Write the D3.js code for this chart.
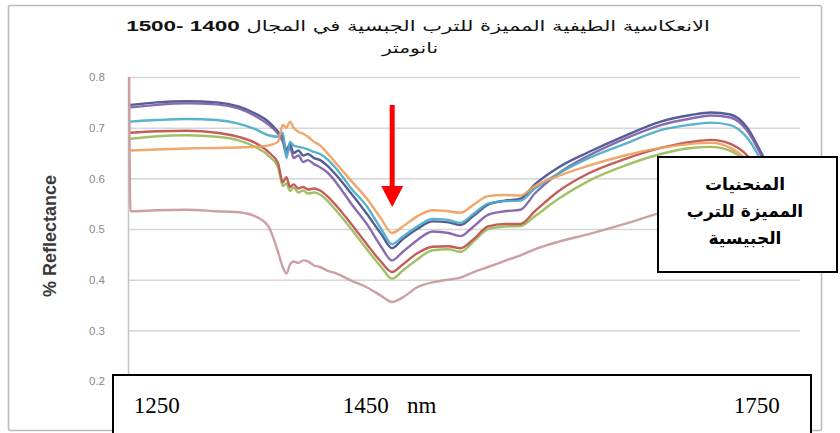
<!DOCTYPE html>
<html><head><meta charset="utf-8">
<script src="https://cdn.jsdelivr.net/npm/d3@7"></script>
<style>html,body{margin:0;padding:0;background:#fff;} svg{display:block;}</style>
</head><body>
<svg id="chart" width="840" height="433"></svg>
<script>
// ---------------- DATA ----------------
const wavelengths = [1228,1250,1275,1300,1318,1332,1343,1351,1355,1358,1361,1364,1368,1372,1376,1381,1386,1392,1400,1412,1425,1437,1446,1455,1467,1480,1493,1503,1514,1526,1540,1553,1565,1585,1610,1640,1670,1695,1712,1728,1742,1755,1768];

const navyValues = [0.745,0.750,0.752,0.750,0.742,0.728,0.712,
  0.692,0.680,0.656,0.668,0.650,0.655,0.645,0.648,0.640,0.636,0.625,0.605,0.570,0.530,0.490,0.462,
  0.480,0.500,0.515,0.513,0.508,0.526,0.548,0.556,0.560,0.588,0.622,0.652,0.684,0.712,0.725,0.730,0.726,0.700,0.645,0.590];
const purpleValues = [0.740,0.745,0.748,0.746,0.738,0.723,0.706,
  0.688,0.672,0.648,0.662,0.640,0.645,0.632,0.636,0.628,0.622,0.612,0.590,0.550,0.510,0.465,0.438,
  0.455,0.478,0.495,0.492,0.486,0.505,0.528,0.535,0.538,0.570,0.610,0.645,0.678,0.705,0.718,0.724,0.720,0.694,0.640,0.585];
const tealValues = [0.712,0.715,0.717,0.715,0.708,0.697,0.685,
  0.682,0.690,0.640,0.672,0.665,0.662,0.660,0.657,0.652,0.648,0.638,0.618,0.580,0.545,0.500,0.470,
  0.485,0.505,0.520,0.518,0.512,0.530,0.550,0.555,0.556,0.580,0.610,0.640,0.668,0.695,0.706,0.710,0.705,0.680,0.630,0.575];
const redValues = [0.690,0.693,0.694,0.690,0.682,0.670,0.652,
  0.630,0.592,0.602,0.583,0.588,0.580,0.583,0.578,0.580,0.576,0.565,0.545,0.510,0.470,0.435,0.415,
  0.430,0.452,0.465,0.466,0.462,0.480,0.505,0.510,0.510,0.535,0.575,0.610,0.638,0.660,0.672,0.676,0.668,0.645,0.600,0.550];
const greenValues = [0.678,0.683,0.685,0.682,0.675,0.662,0.645,
  0.622,0.585,0.590,0.575,0.582,0.572,0.576,0.570,0.572,0.568,0.556,0.535,0.500,0.460,0.425,0.402,
  0.418,0.440,0.458,0.460,0.455,0.475,0.500,0.505,0.506,0.525,0.560,0.595,0.625,0.648,0.660,0.662,0.654,0.630,0.590,0.540];
const orangeValues = [0.655,0.657,0.659,0.660,0.661,0.662,0.665,
  0.672,0.706,0.700,0.712,0.700,0.692,0.688,0.682,0.672,0.665,0.650,0.628,0.595,0.560,0.520,0.492,
  0.505,0.525,0.537,0.535,0.532,0.548,0.565,0.567,0.566,0.585,0.605,0.625,0.645,0.660,0.668,0.670,0.660,0.635,0.595,0.545];
const pinkValues = [0.535,0.537,0.538,0.535,0.533,0.525,0.505,
  0.455,0.425,0.412,0.430,0.436,0.433,0.438,0.436,0.428,0.425,0.418,0.412,0.398,0.385,0.368,0.356,
  0.365,0.385,0.395,0.400,0.404,0.415,0.425,0.437,0.448,0.460,0.475,0.490,0.510,0.532,0.545,0.550,0.548,0.540,0.530,0.510];
// the pink spectrum opens with a spike at the first wavelength
const pinkLeadWavelength = 1227;
const pinkLeadValue = 0.80;

const seriesColors = {
  pink: "#c9999b", green: "#9bbb59", red: "#c0504d", navy: "#45508e",
  purple: "#7f60a8", teal: "#4bacc6", orange: "#eea060"
};

const yTickValues = [0.2,0.3,0.4,0.5,0.6,0.7,0.8];
const xLabelValues = [1250, 1450, 1750];
const xUnit = "nm";
const yAxisTitle = "% Reflectance";
const titleArabic = "الانعكاسية الطيفية المميزة للترب الجبسية  في المجال  ";
const titleNumbers = "1400 -1500";
const titleLine2 = "نانومتر";
const noteLines = ["المنحنيات", "المميزة للترب", "الجبيسية"];
const arrowWavelength = 1447;

// ---------------- CHART ----------------
const svg = d3.select("#chart");
const x = d3.scaleLinear().domain([1226, 1786]).range([128, 800]);
const y = d3.scaleLinear().domain([0.2, 0.8]).range([381, 77]);

// outer frame
svg.append("rect").attr("x", 8.5).attr("y", 5.5).attr("width", 813).attr("height", 425)
  .attr("fill", "#fff").attr("stroke", "#bdbdbd").attr("stroke-width", 1.6).attr("rx", 2);

// title (stretched horizontally like the reference)
const tg = svg.append("g").attr("transform", "translate(418,0) scale(1.45,1)");
const title = tg.append("text").attr("x", 0).attr("y", 31).attr("direction", "rtl")
  .attr("text-anchor", "middle").attr("font-family", "'DejaVu Sans', sans-serif")
  .attr("font-size", 14.5).attr("fill", "#111");
title.append("tspan").text(titleArabic);
title.append("tspan").attr("font-weight", "bold").attr("font-family", "'Liberation Sans', Arial, sans-serif")
  .attr("font-size", 15.5).text(titleNumbers);
const tg2 = svg.append("g").attr("transform", "translate(410,0) scale(1.45,1)");
tg2.append("text").attr("x", 0).attr("y", 53).attr("text-anchor", "middle")
  .attr("font-family", "'DejaVu Sans', sans-serif").attr("font-size", 14).attr("fill", "#111")
  .text(titleLine2);

// gridlines
svg.append("g").attr("transform", "translate(128,0)")
  .call(d3.axisLeft(y).tickValues(yTickValues.filter(d => d > 0.2)).tickSize(-672).tickFormat(""))
  .call(g => g.select(".domain").remove())
  .call(g => g.selectAll("line").attr("stroke", "#d6d6d6").attr("stroke-width", 1.5));

// y axis
svg.append("g").attr("transform", "translate(128,0)")
  .call(d3.axisLeft(y).tickValues(yTickValues).tickSize(0).tickPadding(23).tickFormat(d3.format(".1f")))
  .call(g => g.select(".domain").attr("stroke", "#c4c4c4").attr("stroke-width", 1.5))
  .call(g => g.selectAll("text").attr("fill", "#8a8a8a").attr("font-size", 11.5)
    .attr("font-family", "'Liberation Sans', Arial, sans-serif"));

svg.append("text").attr("transform", "translate(56,236) rotate(-90)").attr("text-anchor", "middle")
  .attr("font-family", "'Liberation Sans Narrow', 'Liberation Sans', sans-serif")
  .attr("font-weight", "bold").attr("font-size", 18).attr("fill", "#3a3a3a").text(yAxisTitle);

// series
const line = d3.line().x(d => x(d[0])).y(d => y(d[1])).curve(d3.curveMonotoneX);
const series = [
  {key: "pink", pts: [[pinkLeadWavelength, pinkLeadValue]].concat(wavelengths.map((w, i) => [w, pinkValues[i]]))},
  {key: "green", pts: wavelengths.map((w, i) => [w, greenValues[i]])},
  {key: "red", pts: wavelengths.map((w, i) => [w, redValues[i]])},
  {key: "navy", pts: wavelengths.map((w, i) => [w, navyValues[i]])},
  {key: "purple", pts: wavelengths.map((w, i) => [w, purpleValues[i]])},
  {key: "teal", pts: wavelengths.map((w, i) => [w, tealValues[i]])},
  {key: "orange", pts: wavelengths.map((w, i) => [w, orangeValues[i]])}
];
svg.append("g").selectAll("path").data(series).join("path")
  .attr("d", d => line(d.pts)).attr("fill", "none")
  .attr("stroke", d => seriesColors[d.key]).attr("stroke-width", 2.4)
  .attr("stroke-linejoin", "round").attr("opacity", 0.92);

// red arrow
const ax = x(arrowWavelength) - 1;
svg.append("rect").attr("x", ax - 2.5).attr("y", 105).attr("width", 5).attr("height", 82).attr("fill", "#ff0000");
svg.append("path").attr("d", `M${ax - 11},186 L${ax + 11},186 L${ax},207 Z`).attr("fill", "#ff0000");

// note box
svg.append("rect").attr("x", 658).attr("y", 157).attr("width", 179).attr("height", 115)
  .attr("fill", "#fff").attr("stroke", "#000").attr("stroke-width", 2);
svg.append("g").selectAll("text").data(noteLines).join("text")
  .attr("x", 745).attr("y", (d, i) => 190 + i * 27).attr("text-anchor", "middle")
  .attr("direction", "rtl").attr("font-family", "'DejaVu Sans', sans-serif")
  .attr("font-weight", "bold").attr("font-size", 17).attr("fill", "#000").text(d => d);

// bottom label box
svg.append("rect").attr("x", 113).attr("y", 375).attr("width", 698).attr("height", 70)
  .attr("fill", "#fff").attr("stroke", "#000").attr("stroke-width", 2);
const xLab = svg.append("g").attr("font-family", "'Liberation Serif', 'Times New Roman', serif")
  .attr("font-size", 23).attr("fill", "#000");
xLab.selectAll("text").data(xLabelValues).join("text")
  .attr("x", d => x(d)).attr("y", 413).attr("text-anchor", "middle")
  .attr("dx", (d, i) => [0, -31, 0][i]).text(d => d);
xLab.append("text").attr("x", x(1450) + 25).attr("y", 413).attr("text-anchor", "middle").text(xUnit);
</script>
</body></html>
